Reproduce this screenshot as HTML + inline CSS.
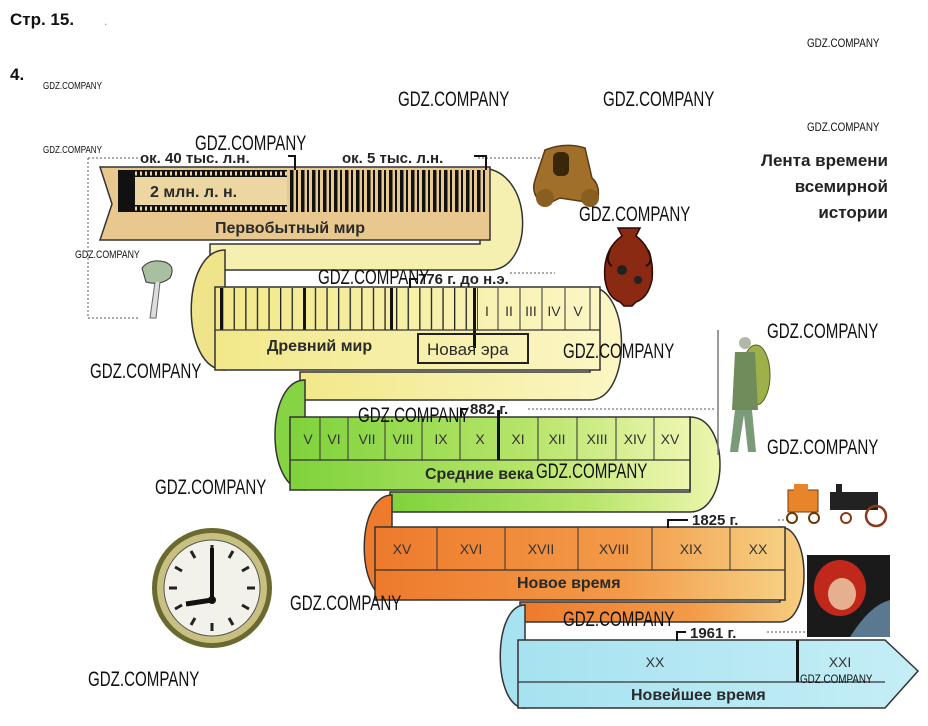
<!DOCTYPE html>
<html><head><meta charset="utf-8"><style>
html,body{margin:0;padding:0;background:#fff;}
svg{display:block;}
text{font-family:"Liberation Sans","DejaVu Sans",sans-serif;}
.wm{font-family:"Liberation Sans",sans-serif;fill:#111;}
.lb{font-size:16px;font-weight:bold;fill:#2a2a2a;}
.rn{font-size:14px;fill:#333;text-anchor:middle;}
.ann{font-size:15px;font-weight:bold;fill:#222;}
</style></head><body>
<svg width="928" height="726" viewBox="0 0 928 726" xmlns="http://www.w3.org/2000/svg">
<defs>
<linearGradient id="gy" x1="0" x2="1"><stop offset="0" stop-color="#f2e88a"/><stop offset="1" stop-color="#fbf6c4"/></linearGradient>
<linearGradient id="gg" x1="0" x2="1"><stop offset="0" stop-color="#7fd23c"/><stop offset="0.6" stop-color="#b7e56a"/><stop offset="1" stop-color="#eef6b0"/></linearGradient>
<linearGradient id="go" x1="0" x2="1"><stop offset="0" stop-color="#ee7a2c"/><stop offset="0.6" stop-color="#f29a48"/><stop offset="1" stop-color="#f7cf82"/></linearGradient>
<linearGradient id="gc" x1="0" x2="1"><stop offset="0" stop-color="#a6e2f0"/><stop offset="1" stop-color="#c5eef6"/></linearGradient>
<pattern id="pb" width="11" height="50" patternUnits="userSpaceOnUse" x="290"><rect x="0" y="0" width="3.5" height="50" fill="#111"/><rect x="6" y="0" width="2" height="50" fill="#111"/></pattern>
<pattern id="py" width="11.6" height="50" patternUnits="userSpaceOnUse" x="222"><rect x="0" y="0" width="1.3" height="50" fill="#222"/></pattern>
</defs>

<!-- header text -->
<text x="10" y="25" style="font-size:17px;font-weight:bold" fill="#111">Стр. 15.</text>
<text x="104" y="25" style="font-size:12px" fill="#999">.</text>
<text x="10" y="80" style="font-size:17px;font-weight:bold" fill="#111">4.</text>

<!-- title -->
<g style="font-size:17px;font-weight:bold" fill="#222" text-anchor="end">
<text x="888" y="166">Лента времени</text>
<text x="888" y="192">всемирной</text>
<text x="888" y="218">истории</text>
</g>

<!-- dotted guides -->
<g stroke="#777" stroke-width="1.2" stroke-dasharray="2 2" fill="none">
<path d="M88 158 H138 M88 158 V318 H140"/>
<path d="M478 158 H540"/>
<path d="M510 273 H555"/>
<path d="M528 409 H715"/>
<path d="M778 520 H790"/>
<path d="M767 632 H805"/>
</g>

<!-- ===== Brown -> yellow curl ===== -->
<path d="M480 168 C535 168 535 270 490 270 L210 270 L210 244 L480 244 Z" fill="#f6f0b0" stroke="#333" stroke-width="1.5"/>
<path d="M225 250 C180 250 180 370 225 370 Z" fill="#efe48a" stroke="#333" stroke-width="1.5"/>
<!-- brown band -->
<path d="M100 167 H490 V240 H100 L112 204 Z" fill="#e8c88e" stroke="#333" stroke-width="1.5"/>
<rect x="118" y="170" width="17" height="42" fill="#111"/>
<rect x="135" y="170" width="152" height="42" fill="#111"/>
<rect x="135" y="177" width="152" height="28" fill="#ecd6a2"/>
<line x1="135" y1="173.5" x2="287" y2="173.5" stroke="#ecd6a2" stroke-width="4" stroke-dasharray="2 3"/>
<line x1="135" y1="208.5" x2="287" y2="208.5" stroke="#ecd6a2" stroke-width="4" stroke-dasharray="2 3"/>
<rect x="287" y="170" width="201" height="42" fill="url(#pb)"/>
<text x="150" y="197" class="lb">2 млн. л. н.</text>
<text x="215" y="233" class="lb">Первобытный мир</text>
<text x="140" y="163" class="ann">ок. 40 тыс. л.н.</text>
<path d="M288 156 H295 V170" stroke="#111" stroke-width="2" fill="none"/>
<text x="342" y="163" class="ann">ок. 5 тыс. л.н.</text>
<path d="M474 156 H486 V170" stroke="#111" stroke-width="2" fill="none"/>

<!-- ===== yellow -> green ===== -->
<path d="M590 287 C632 287 632 400 590 400 L300 400 L300 372 L590 372 Z" fill="url(#gy)" stroke="#333" stroke-width="1.5"/>
<path d="M305 380 C265 380 265 490 305 490 Z" fill="#86d444" stroke="#333" stroke-width="1.5"/>
<!-- yellow band -->
<rect x="215" y="287" width="385" height="83" fill="url(#gy)" stroke="#333" stroke-width="1.5"/>
<rect x="222" y="288" width="256" height="42" fill="url(#py)"/>
<g fill="#111"><rect x="220" y="288" width="3" height="42"/><rect x="303" y="288" width="3" height="42"/><rect x="390" y="288" width="3" height="42"/><rect x="473" y="288" width="3" height="60"/></g>
<line x1="215" y1="330" x2="600" y2="330" stroke="#333" stroke-width="1.2"/>
<g stroke="#333" stroke-width="1"><line x1="498" y1="288" x2="498" y2="330"/><line x1="520" y1="288" x2="520" y2="330"/><line x1="542" y1="288" x2="542" y2="330"/><line x1="565" y1="288" x2="565" y2="330"/><line x1="590" y1="288" x2="590" y2="330"/></g>
<g class="rn"><text x="487" y="316">I</text><text x="509" y="316">II</text><text x="531" y="316">III</text><text x="554" y="316">IV</text><text x="578" y="316">V</text></g>
<text x="267" y="351" class="lb">Древний мир</text>
<rect x="418" y="334" width="110" height="29" fill="none" stroke="#222" stroke-width="2"/>
<text x="427" y="355" class="lb" style="font-weight:normal;font-size:17px">Новая эра</text>
<text x="418" y="284" class="ann">776 г. до н.э.</text>
<path d="M418 279 H410 V288" stroke="#111" stroke-width="2" fill="none"/>

<!-- ===== green -> orange ===== -->
<path d="M690 417 C730 417 730 512 690 512 L390 512 L390 492 L690 492 Z" fill="url(#gg)" stroke="#333" stroke-width="1.5"/>
<path d="M392 495 C355 495 355 600 392 600 Z" fill="#ee7a2c" stroke="#333" stroke-width="1.5"/>
<!-- green band -->
<rect x="290" y="417" width="400" height="73" fill="url(#gg)" stroke="#333" stroke-width="1.5"/>
<line x1="290" y1="460" x2="690" y2="460" stroke="#333" stroke-width="1.2"/>
<g stroke="#333" stroke-width="1"><line x1="320" y1="417" x2="320" y2="460"/><line x1="348" y1="417" x2="348" y2="460"/><line x1="385" y1="417" x2="385" y2="460"/><line x1="422" y1="417" x2="422" y2="460"/><line x1="460" y1="417" x2="460" y2="460"/><line x1="538" y1="417" x2="538" y2="460"/><line x1="577" y1="417" x2="577" y2="460"/><line x1="616" y1="417" x2="616" y2="460"/><line x1="654" y1="417" x2="654" y2="460"/></g>
<rect x="497" y="410" width="3" height="50" fill="#111"/>
<g class="rn"><text x="308" y="444">V</text><text x="334" y="444">VI</text><text x="367" y="444">VII</text><text x="403" y="444">VIII</text><text x="441" y="444">IX</text><text x="480" y="444">X</text><text x="518" y="444">XI</text><text x="557" y="444">XII</text><text x="597" y="444">XIII</text><text x="635" y="444">XIV</text><text x="670" y="444">XV</text></g>
<text x="425" y="479" class="lb">Средние века</text>
<text x="470" y="414" class="ann">882 г.</text>
<path d="M468 409 H461 V417" stroke="#111" stroke-width="2" fill="none"/>

<!-- ===== orange -> cyan ===== -->
<path d="M780 527 C812 527 812 622 780 622 L520 622 L520 602 L780 602 Z" fill="url(#go)" stroke="#333" stroke-width="1.5"/>
<path d="M525 605 C492 605 492 708 525 708 Z" fill="#a6e2f0" stroke="#333" stroke-width="1.5"/>
<!-- orange band -->
<rect x="375" y="527" width="410" height="73" fill="url(#go)" stroke="#333" stroke-width="1.5"/>
<line x1="375" y1="570" x2="785" y2="570" stroke="#333" stroke-width="1.2"/>
<g stroke="#333" stroke-width="1"><line x1="437" y1="527" x2="437" y2="570"/><line x1="505" y1="527" x2="505" y2="570"/><line x1="578" y1="527" x2="578" y2="570"/><line x1="652" y1="527" x2="652" y2="570"/><line x1="730" y1="527" x2="730" y2="570"/></g>
<g class="rn"><text x="402" y="554">XV</text><text x="471" y="554">XVI</text><text x="541" y="554">XVII</text><text x="614" y="554">XVIII</text><text x="691" y="554">XIX</text><text x="758" y="554">XX</text></g>
<text x="517" y="588" class="lb">Новое время</text>
<text x="692" y="525" class="ann">1825 г.</text>
<path d="M688 520 H668 V528" stroke="#111" stroke-width="2" fill="none"/>

<!-- cyan band -->
<path d="M518 640 H885 L918 671 L885 708 H518 Z" fill="url(#gc)" stroke="#333" stroke-width="1.5"/>
<line x1="518" y1="682" x2="885" y2="682" stroke="#333" stroke-width="1.2"/>
<rect x="796" y="640" width="3" height="42" fill="#111"/>
<g class="rn"><text x="655" y="667">XX</text><text x="840" y="667">XXI</text></g>
<text x="631" y="700" class="lb">Новейшее время</text>
<text x="690" y="638" class="ann">1961 г.</text>
<path d="M686 632 H677 V641" stroke="#111" stroke-width="2" fill="none"/>

<!-- pictures -->
<!-- cart -->
<g><path d="M545 150 Q565 142 585 148 L592 178 Q600 185 598 198 L586 202 L560 198 L545 205 Q530 196 535 180 Z" fill="#a0702a" stroke="#5a3a10" stroke-width="1.5"/>
<rect x="553" y="152" width="16" height="24" rx="6" fill="#3a2608"/>
<circle cx="545" cy="198" r="9" fill="#8a5e20"/><circle cx="590" cy="198" r="9" fill="#8a5e20"/></g>
<!-- vase -->
<g><path d="M618 228 H640 L636 236 Q655 250 652 280 Q648 298 636 302 L632 306 H624 L620 302 Q608 298 605 280 Q602 250 622 236 Z" fill="#8a2a12" stroke="#2a0a04" stroke-width="1.5"/>
<path d="M610 250 Q605 262 612 266 M648 250 Q654 262 646 266" stroke="#2a0a04" stroke-width="2" fill="none"/>
<circle cx="622" cy="270" r="5" fill="#222"/><circle cx="638" cy="280" r="4" fill="#222"/></g>
<!-- mushroom/tree -->
<g><path d="M142 268 Q150 258 165 262 Q176 266 170 278 Q160 286 146 282 Z" fill="#a8c0a0" stroke="#333"/>
<path d="M155 282 L150 318 L156 318 L160 282" fill="#ddd" stroke="#666"/></g>
<!-- warrior -->
<g><line x1="718" y1="330" x2="718" y2="455" stroke="#777" stroke-width="1.5"/>
<ellipse cx="756" cy="375" rx="14" ry="30" fill="#9eb04a" stroke="#556020"/>
<circle cx="745" cy="343" r="6" fill="#b0b8a8"/>
<path d="M735 352 H755 L758 410 H732 Z" fill="#6f8c5a"/>
<path d="M735 410 L730 452 H738 L744 415 L748 452 H756 L752 410 Z" fill="#7a9a78"/></g>
<!-- train -->
<g><rect x="788" y="490" width="30" height="22" fill="#e8842a" stroke="#7a3a0a"/>
<rect x="794" y="484" width="14" height="8" fill="#e8842a"/>
<circle cx="792" cy="518" r="5" fill="none" stroke="#6a3a0a" stroke-width="2"/><circle cx="814" cy="518" r="5" fill="none" stroke="#6a3a0a" stroke-width="2"/>
<rect x="830" y="492" width="48" height="18" fill="#222"/><rect x="836" y="484" width="6" height="10" fill="#222"/>
<circle cx="876" cy="516" r="10" fill="none" stroke="#8a3a1a" stroke-width="2.5"/><circle cx="846" cy="518" r="5" fill="none" stroke="#8a3a1a" stroke-width="2"/></g>
<!-- gagarin -->
<g><rect x="807" y="555" width="83" height="82" fill="#1a1a1a"/>
<ellipse cx="840" cy="588" rx="26" ry="28" fill="#c0281c"/>
<ellipse cx="842" cy="594" rx="14" ry="16" fill="#e6b090"/>
<path d="M850 637 Q870 605 890 600 V637 Z" fill="#5a7890"/></g>
<!-- clock -->
<g><circle cx="212" cy="588" r="60" fill="#6a6a30"/>
<circle cx="212" cy="588" r="55" fill="#c8c080"/>
<circle cx="212" cy="588" r="48" fill="#f2f2ea" stroke="#555"/>
<g stroke="#222" stroke-width="3">
<line x1="212" y1="545" x2="212" y2="553"/><line x1="212" y1="623" x2="212" y2="631"/><line x1="169" y1="588" x2="177" y2="588"/><line x1="247" y1="588" x2="255" y2="588"/>
<line x1="233" y1="551" x2="229" y2="558"/><line x1="249" y1="567" x2="242" y2="571"/><line x1="249" y1="609" x2="242" y2="605"/><line x1="233" y1="625" x2="229" y2="618"/>
<line x1="191" y1="551" x2="195" y2="558"/><line x1="175" y1="567" x2="182" y2="571"/><line x1="175" y1="609" x2="182" y2="605"/><line x1="191" y1="625" x2="195" y2="618"/></g>
<line x1="212" y1="600" x2="212" y2="548" stroke="#111" stroke-width="4"/>
<line x1="212" y1="600" x2="186" y2="604" stroke="#111" stroke-width="5"/>
<circle cx="212" cy="600" r="4" fill="#111"/></g>

<!-- watermarks -->
<g class="wm">
<text x="43" y="89" font-size="10" transform="translate(43 0) scale(0.8 1) translate(-43 0)">GDZ.COMPANY</text>
<text x="43" y="153" font-size="10" transform="translate(43 0) scale(0.8 1) translate(-43 0)">GDZ.COMPANY</text>
<text x="75" y="258" font-size="11" transform="translate(75 0) scale(0.8 1) translate(-75 0)">GDZ.COMPANY</text>
<text x="807" y="47" font-size="12" transform="translate(807 0) scale(0.82 1) translate(-807 0)">GDZ.COMPANY</text>
<text x="807" y="131" font-size="12" transform="translate(807 0) scale(0.82 1) translate(-807 0)">GDZ.COMPANY</text>
<text x="800" y="683" font-size="12" transform="translate(800 0) scale(0.82 1) translate(-800 0)">GDZ.COMPANY</text>
<g font-size="21">
<text x="398" y="106" transform="translate(398 0) scale(0.72 1) translate(-398 0)">GDZ.COMPANY</text>
<text x="603" y="106" transform="translate(603 0) scale(0.72 1) translate(-603 0)">GDZ.COMPANY</text>
<text x="195" y="150" transform="translate(195 0) scale(0.72 1) translate(-195 0)">GDZ.COMPANY</text>
<text x="579" y="221" transform="translate(579 0) scale(0.72 1) translate(-579 0)">GDZ.COMPANY</text>
<text x="318" y="284" transform="translate(318 0) scale(0.72 1) translate(-318 0)">GDZ.COMPANY</text>
<text x="563" y="358" transform="translate(563 0) scale(0.72 1) translate(-563 0)">GDZ.COMPANY</text>
<text x="767" y="338" transform="translate(767 0) scale(0.72 1) translate(-767 0)">GDZ.COMPANY</text>
<text x="90" y="378" transform="translate(90 0) scale(0.72 1) translate(-90 0)">GDZ.COMPANY</text>
<text x="358" y="422" transform="translate(358 0) scale(0.72 1) translate(-358 0)">GDZ.COMPANY</text>
<text x="767" y="454" transform="translate(767 0) scale(0.72 1) translate(-767 0)">GDZ.COMPANY</text>
<text x="536" y="478" transform="translate(536 0) scale(0.72 1) translate(-536 0)">GDZ.COMPANY</text>
<text x="155" y="494" transform="translate(155 0) scale(0.72 1) translate(-155 0)">GDZ.COMPANY</text>
<text x="290" y="610" transform="translate(290 0) scale(0.72 1) translate(-290 0)">GDZ.COMPANY</text>
<text x="563" y="626" transform="translate(563 0) scale(0.72 1) translate(-563 0)">GDZ.COMPANY</text>
<text x="88" y="686" transform="translate(88 0) scale(0.72 1) translate(-88 0)">GDZ.COMPANY</text>
</g>
</g>
</svg>
</body></html>
